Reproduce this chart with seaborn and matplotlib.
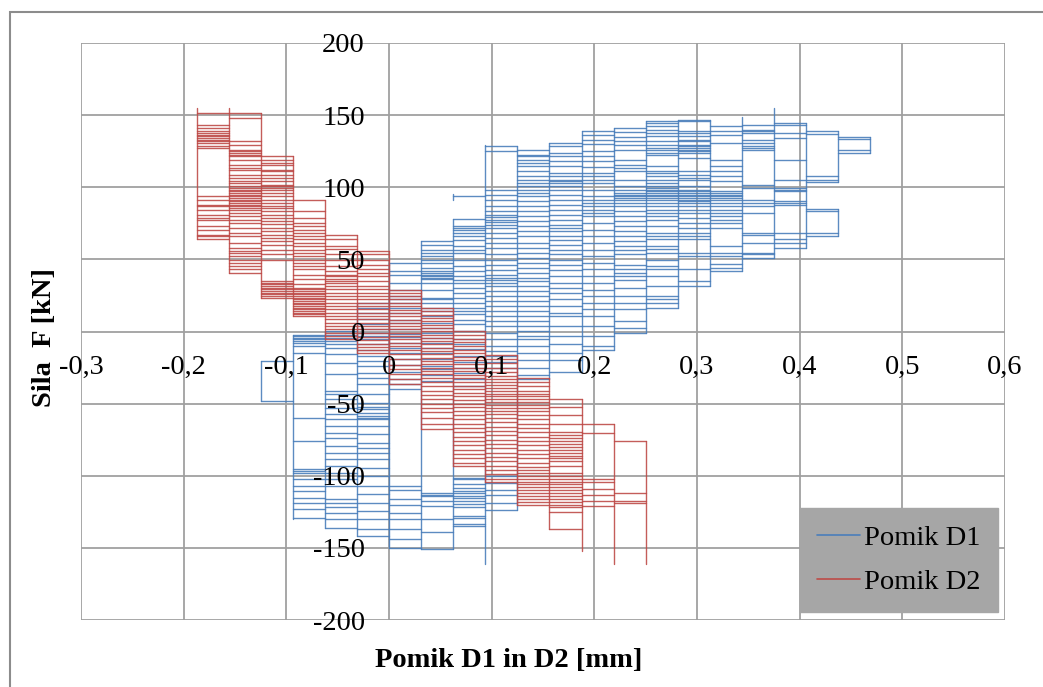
import numpy as np
import pandas as pd
import matplotlib
matplotlib.use("Agg")
import matplotlib.pyplot as plt
import seaborn as sns
from matplotlib.patches import Rectangle

# displacement gauge resolution (mm per step)
STEP = 0.03125

x_ticks = [-0.3, -0.2, -0.1, 0.0, 0.1, 0.2, 0.3, 0.4, 0.5, 0.6]
x_labels = ['-0,3', '-0,2', '-0,1', '0', '0,1', '0,2', '0,3', '0,4', '0,5', '0,6']
y_ticks = [-200, -150, -100, -50, 0, 50, 100, 150, 200]
y_labels = ['-200', '-150', '-100', '-50', '0', '50', '100', '150', '200']

# Pomik D1: force levels [kN] of the steps between gauge column k and k+1
d1_first_col = -4
d1_rungs = [
    [-20.6, -48],
    [-2.1, -3.2, -4.4, -5.5, -6.7, -7.8, -10.2, -14.8, -59.8, -76, -95.5, -96.7, -97.9, -102.5, -107, -110.5,
     -115.2, -118.6, -123.2, -129],
    [0.2, -2.1, -4.4, -6.7, -9, -11.3, -15.9, -21.7, -29.8, -41.3, -43.6, -47.1, -52.9, -57.5, -61, -65.5, -70.2,
     -73.6, -79.4, -84, -88.6, -93.2, -97.9, -102.5, -107, -116.3, -118.6, -122, -125.6, -130.2, -136],
    [19.9, 16.4, 13, 8.4, 4.9, 1.5, -0.9, -3, -5.5, -9, -13, -17, -20.5, -24, -28.6, -32, -36.7, -43.6, -49.4,
     -52.2, -54, -56.3, -58.6, -59.8, -61, -65.5, -71.3, -77, -80.5, -84, -88.6, -94.4, -100, -107, -112.9,
     -118.6, -124.4, -130, -137, -141.7],
    [47.6, 41.8, 39.5, 33.7, 29.1, 24.5, 22.2, 19.9, 16.4, 13, 8, 6, 1.4, -2, -4, -7.8, -11.3, -15, -19, -23,
     -28, -33, -36.7, -40, -107, -110, -116, -120, -125.5, -130, -137, -144, -149.8],
    [62.6, 60.3, 56.8, 54.5, 52.2, 49.9, 47.6, 44.1, 41.8, 40.7, 39.5, 38.4, 37.2, 36.1, 33.7, 29.1, 23.4, 22.2,
     19.9, 16.4, 14.1, 10.7, 6, 2.6, -0.9, -4.3, -7.8, -11.3, -15, -19, -24, -26, -30, -34, -111.7, -113, -114,
     -117.5, -121, -130, -139, -151],
    [93.7, 78, 73, 71.8, 70.6, 68.3, 66, 63.7, 59.1, 56.8, 54.5, 49.9, 45.3, 41.8, 38.3, 36, 33.7, 30.3, 26.8,
     23.3, 19.9, 16.4, 14.1, 11.8, 8.3, 4.9, 0.2, -5.5, -9, -12.4, -17, -21, -25, -28.6, -33, -38, -101.3,
     -102.5, -106, -108.3, -110.6, -111.7, -114, -115.2, -117.5, -119.8, -122, -127.9, -129, -133.6, -134.8],
    [128.3, 124.9, 98.3, 94.9, 91.4, 86.8, 83.3, 81, 79.4, 77.6, 75.7, 74.1, 71.8, 68.3, 64.9, 61.4, 58, 53.4,
     49.9, 46.4, 42.9, 39.5, 37.2, 35.6, 33.7, 31.4, 28, 24.5, 21, 17.6, 14.1, 10.6, 7.2, 3.7, -0.9, -5.5, -10.1,
     -13.6, -17, -21, -25, -100.5, -105, -110, -113, -119, -124],
    [126, 122.6, 121.4, 119.1, 116.8, 114.5, 111, 107.6, 105.3, 103, 100.7, 98.3, 96, 93.7, 90.3, 86.8, 83.3,
     79.9, 76.4, 73, 69.5, 66, 61.4, 58, 54.5, 51, 47.6, 44.1, 40.6, 37.2, 34.9, 31.4, 28, 24.5, 21, 17.6, 14.1,
     10.6, 7.2, 3.7, 0.2, -3.2, -5.5, -10, -15, -20, -25, -30, -33],
    [130.7, 128.3, 123.7, 121.4, 118, 114.5, 109.9, 107.6, 105.3, 104.1, 103, 100.7, 98.3, 94.9, 91.4, 88, 84.5,
     81, 77.6, 74.1, 71.8, 69.5, 66, 63.7, 60.3, 56.8, 53.4, 49.9, 46.4, 42.9, 38.3, 33.7, 30.3, 26.8, 22.2, 17.6,
     13, 10.6, 3.7, -3.2, -9, -14.7, -20, -28],
    [138.7, 136, 133, 130, 125, 122, 118, 114, 109.9, 107.6, 105, 103, 98.3, 93.7, 91.4, 89.1, 86.8, 84.5, 82.2,
     79.9, 75.3, 70.6, 66, 61.4, 56.8, 52.2, 47.6, 43, 38.3, 33.7, 29.1, 24.5, 19.9, 15.3, 10.6, 3.7, -3.2, -10.1,
     -13],
    [141, 138, 135, 132, 129, 126, 119.1, 115.6, 113.3, 111, 105.3, 100.7, 98.3, 96, 94.9, 93.7, 92.6, 91.4, 89.1,
     86.8, 83.3, 79.9, 76.4, 73, 69.5, 66, 62.6, 59.1, 56.8, 53.4, 46.4, 43, 40.6, 38.3, 36, 30.3, 24.5, 19.9,
     15.3, 7.2, 2.6, -0.9],
    [145.7, 144.5, 142.2, 139.9, 137.6, 135.3, 131.9, 129.5, 127.2, 126.1, 123.8, 122.6, 114.5, 111.1, 109.9,
     107.6, 105.3, 103, 100.7, 99.5, 98.4, 97.2, 96.1, 94.9, 93.8, 92.6, 91.5, 89.2, 86.8, 84.5, 82.2, 79.9, 77.6,
     73, 68.4, 66.1, 63.8, 59.2, 56.9, 54.5, 49.9, 45.3, 43, 38.4, 31.5, 24.5, 22.2, 19.9, 16.5],
    [146.9, 145.7, 138.8, 137.6, 135.3, 133, 131.9, 129.5, 128.4, 127.2, 126.1, 124.9, 123.8, 120.3, 111.1, 108.8,
     106.5, 105.3, 100.7, 98.4, 97.2, 96.1, 94.9, 93.8, 92.6, 91.5, 90.3, 89.2, 86.8, 84.5, 82.2, 78.8, 75.3,
     71.8, 68.4, 66.1, 63.8, 54.5, 52.2, 43, 34.9, 31.5],
    [142.2, 138.8, 136.5, 130.7, 119.2, 114.5, 111.1, 107.6, 104.2, 97.2, 96.1, 94.9, 93.8, 92.6, 91.5, 89.2,
     86.8, 84.5, 82.2, 79.9, 77.6, 75.3, 71.8, 59.2, 54.5, 52.2, 46.5, 44.2, 41.8],
    [143.4, 139.9, 138.8, 137.6, 133, 130.7, 128.4, 127.2, 126.1, 101.8, 99.5, 91.5, 89.2, 86.8, 82.2, 68.4, 67.2,
     61.5, 54.5, 53.4, 51.1],
    [144.5, 143.4, 137.6, 134.2, 119.2, 105.3, 99.5, 98.4, 97.2, 90.3, 89.2, 88, 68.4, 63.8, 61.5, 58],
    [138.7, 137, 107.5, 104.8, 103.6, 85, 83.6, 68.5, 66.5],
    [135, 133.5, 126, 123.7],
]
# Pomik D1: vertical runs at each gauge column
d1_vcol = [-4, -3, -2, -1, 0, 1, 2, 2, 3, 4, 5, 6, 7, 8, 9, 10, 11, 12, 13, 14, 14, 15]
d1_vlo = [-48, -130, -136, -142, -150, -151, -151, 91, -161, -124, -33, -28, -13, -1, 16.5, 31.5, 41.8, 51.1,
          58, 103.6, 66.5, 123.7]
d1_vhi = [-20.6, -2.1, 0.2, 19.9, 47.6, 62.6, 78, 95, 129.5, 128.3, 130.7, 138.7, 141, 145.7, 146.9, 146.9, 149,
          155, 144.5, 138.7, 85, 135]

# Pomik D2
d2_first_col = -6
d2_rungs = [
    [151.5, 143.4, 141.1, 138.8, 137.6, 136.5, 135.3, 134.2, 133, 131.9, 130.7, 128.4, 127.2, 93.8, 91.5, 88,
     86.8, 84.5, 81.1, 78.8, 77.6, 73, 70.7, 67.2, 66.1, 63.8],
    [151.5, 148, 131.9, 129.6, 126.1, 124.9, 123.8, 122.6, 121.5, 119.2, 115.7, 113.4, 112.2, 108.8, 106.5, 104.2,
     103, 100.7, 99.5, 98.4, 97.2, 96.1, 94.9, 93.8, 92.6, 91.5, 90.3, 89.2, 88, 86.8, 85.7, 84.5, 82.2, 79.9,
     77.6, 75.3, 71.8, 68.4, 66.1, 61.5, 58, 55.7, 54.5, 52.2, 49.9, 47.6, 45.3, 43, 40.7],
    [121.5, 119.2, 116.9, 115.7, 112.2, 111.1, 108.8, 106.5, 104.2, 101.8, 100.7, 99.5, 98.4, 96.1, 93.8, 91.5,
     89.2, 86.8, 85.7, 83.4, 81.1, 78.8, 76.5, 74.2, 71.8, 69.5, 67.2, 64.9, 62.6, 60.3, 56.8, 53.4, 49.9, 34.9,
     33.8, 32.6, 31.5, 30.3, 29.2, 28, 26.9, 25.7, 24.5, 23.4],
    [91.5, 83.4, 78.8, 75.3, 73, 70.7, 68.4, 66.1, 63.8, 61.5, 59.1, 56.8, 54.5, 52.2, 49.9, 47.6, 45.3, 43, 39.5,
     36.1, 32.6, 30.3, 29.2, 28, 26.9, 25.7, 24.5, 23.4, 22.2, 21.1, 19.9, 18.8, 17.6, 16.5, 15.3, 14.1, 13,
     11.8, 10.7],
    [67.2, 63.8, 59.2, 56.9, 53.4, 49.9, 45.3, 41.8, 39.5, 38.4, 36.1, 35, 33.8, 31.5, 29.2, 26.9, 24.5, 22.2,
     19.9, 17.6, 15.3, 13, 10.7, 8.4, 6.1, 3.8, 1.5, -0.8, -3, -5],
    [55.7, 53.4, 49.9, 46.4, 43, 40.7, 38.4, 35, 31.5, 29.2, 26.9, 24.5, 22.2, 19.9, 17.6, 15.3, 13, 10.7, 8.4,
     6.1, 3.8, 1.5, -1, -3.5, -6, -8.5, -11, -13, -15],
    [29.1, 26.8, 24.5, 22.2, 19.8, 17.5, 15.2, 12.9, 10.6, 8.3, 6, 3.7, 1.4, -0.9, -3.2, -5.5, -7.9, -10.2,
     -12.5, -15.9, -19.4, -22.9, -26.3, -29.8, -33.2, -36.7],
    [16.4, 14, 11.7, 9.4, 7.1, 4.8, 2.5, 0.2, -2.1, -4.4, -6.7, -9, -11.3, -13.6, -15.9, -18.2, -20.5, -22.8,
     -25.1, -27.4, -29.7, -32, -35, -38, -41, -44, -47, -50, -53, -56, -60, -64, -67.9],
    [0.2, -2.5, -5, -7.5, -10, -12.5, -15, -17.5, -20, -22.5, -25, -27.5, -30, -32.5, -35, -37.5, -40, -42.5, -45,
     -47.5, -50, -52.5, -55, -58, -61, -64, -67, -70, -73, -76, -79, -82, -85, -88, -91, -93],
    [-16, -19, -22, -25, -28, -31, -33, -35, -37, -39, -41, -43, -45, -47, -49, -51, -53, -55, -57, -60, -63, -66,
     -69, -72, -75, -78, -81, -84, -87, -90, -93, -96, -99, -102, -104],
    [-32, -35, -38, -41, -43, -45, -47, -49, -51, -53, -55, -58, -61, -64, -67, -70, -73, -76, -79, -82, -85, -88,
     -91, -94, -96, -98, -100, -102, -104, -106, -108, -110, -112, -114, -116, -118, -120],
    [-47, -52, -58, -64, -70, -72, -74, -76, -78, -80, -82, -84, -86, -88, -90, -93, -98, -100, -102, -104, -106,
     -108, -110, -112, -114, -116, -118, -120, -122, -125, -137],
    [-64.4, -70.2, -102.5, -104, -109.4, -113, -117.5, -121],
    [-76, -111.7, -117.5, -119],
]
d2_vcol = [-6, -5, -4, -3, -2, -1, 0, 1, 2, 3, 4, 5, 6, 7, 8]
d2_vlo = [63.8, 40.7, 23.4, 10.7, -5, -15, -36.7, -67.9, -93, -104, -120, -137, -152, -161, -161]
d2_vhi = [155, 155, 151.5, 121.5, 91.5, 67.2, 55.7, 29.1, 16.4, 0.2, -16, -32, -47, -64.4, -76]

series_names = ['Pomik D1', 'Pomik D2']
colors = ['#4A7EBB', '#BE4B48']

# build segment table
rows = []
seg = 0
for name, first, boxes, vcol, vlo, vhi in [
        (series_names[0], d1_first_col, d1_rungs, d1_vcol, d1_vlo, d1_vhi),
        (series_names[1], d2_first_col, d2_rungs, d2_vcol, d2_vlo, d2_vhi)]:
    for i, rungs in enumerate(boxes):
        k = first + i
        for f in rungs:
            rows.append((name, seg, k * STEP, f))
            rows.append((name, seg, (k + 1) * STEP, f))
            seg += 1
    for c, lo, hi in zip(vcol, vlo, vhi):
        rows.append((name, seg, c * STEP, lo))
        rows.append((name, seg, c * STEP, hi))
        seg += 1
df = pd.DataFrame(rows, columns=['series', 'seg', 'x', 'F'])

sns.set_theme(style='white')
plt.rcParams['font.family'] = ['Liberation Serif', 'DejaVu Serif']
plt.rcParams['text.color'] = 'black'
plt.rcParams['axes.labelcolor'] = 'black'

fig = plt.figure(figsize=(10.43, 6.87), dpi=100)
ax = fig.add_axes([81 / 1043, 1 - 620 / 687, 924 / 1043, 577 / 687])

GRID = '#A0A0A0'
for t in x_ticks:
    ax.axvline(t, color=GRID, lw=1.3, zorder=0)
for t in y_ticks:
    ax.axhline(t, color=GRID, lw=1.3, zorder=0)

sns.lineplot(data=df, x='x', y='F', hue='series', hue_order=series_names,
             palette=dict(zip(series_names, colors)), units='seg', estimator=None,
             sort=False, lw=1.0, alpha=0.9, ax=ax)

ax.set_xlim(-0.3, 0.6)
ax.set_ylim(-200, 200)
ax.set_xticks(x_ticks)
ax.set_xticklabels(x_labels)
ax.set_yticks(y_ticks)
ax.set_yticklabels(y_labels)
ax.spines['left'].set_position(('data', 0))
ax.spines['bottom'].set_position(('data', 0))
for s in ax.spines.values():
    s.set_visible(False)
ax.set_axisbelow(False)
ax.tick_params(axis='both', length=0, labelsize=20.5, colors='black')
ax.tick_params(axis='y', pad=17.5)
ax.tick_params(axis='x', pad=17)

ax.set_xlabel('Pomik D1 in D2 [mm]', fontsize=20.5, fontweight='bold', color='black')
ax.set_ylabel('Sila  F [kN]', fontsize=20.5, fontweight='bold', color='black')
ax.xaxis.set_label_coords(0.463, -0.048)
ax.yaxis.set_label_coords(-0.026, 0.49)

handles, labels = ax.get_legend_handles_labels()
leg = ax.legend(handles, labels, loc='lower left', bbox_to_anchor=(0.778, 0.0139),
                borderaxespad=0, fontsize=20.5, handlelength=1.5, handletextpad=0.15,
                labelspacing=0.62, borderpad=0.6, frameon=True, fancybox=False)
leg.get_frame().set_facecolor('#A6A6A6')
leg.get_frame().set_edgecolor('#A6A6A6')
leg.get_frame().set_alpha(1)
for t in leg.get_texts():
    t.set_color('black')
for h in leg.get_lines():
    h.set_linewidth(1.2)
    h.set_alpha(1)

fig.add_artist(Rectangle((10 / 1043, -0.1), 1.2, 1 - 12 / 687 + 0.1, transform=fig.transFigure,
                         fill=False, edgecolor='#8C8C8C', lw=1.5, clip_on=False))

fig.savefig('out.png', dpi=100)
